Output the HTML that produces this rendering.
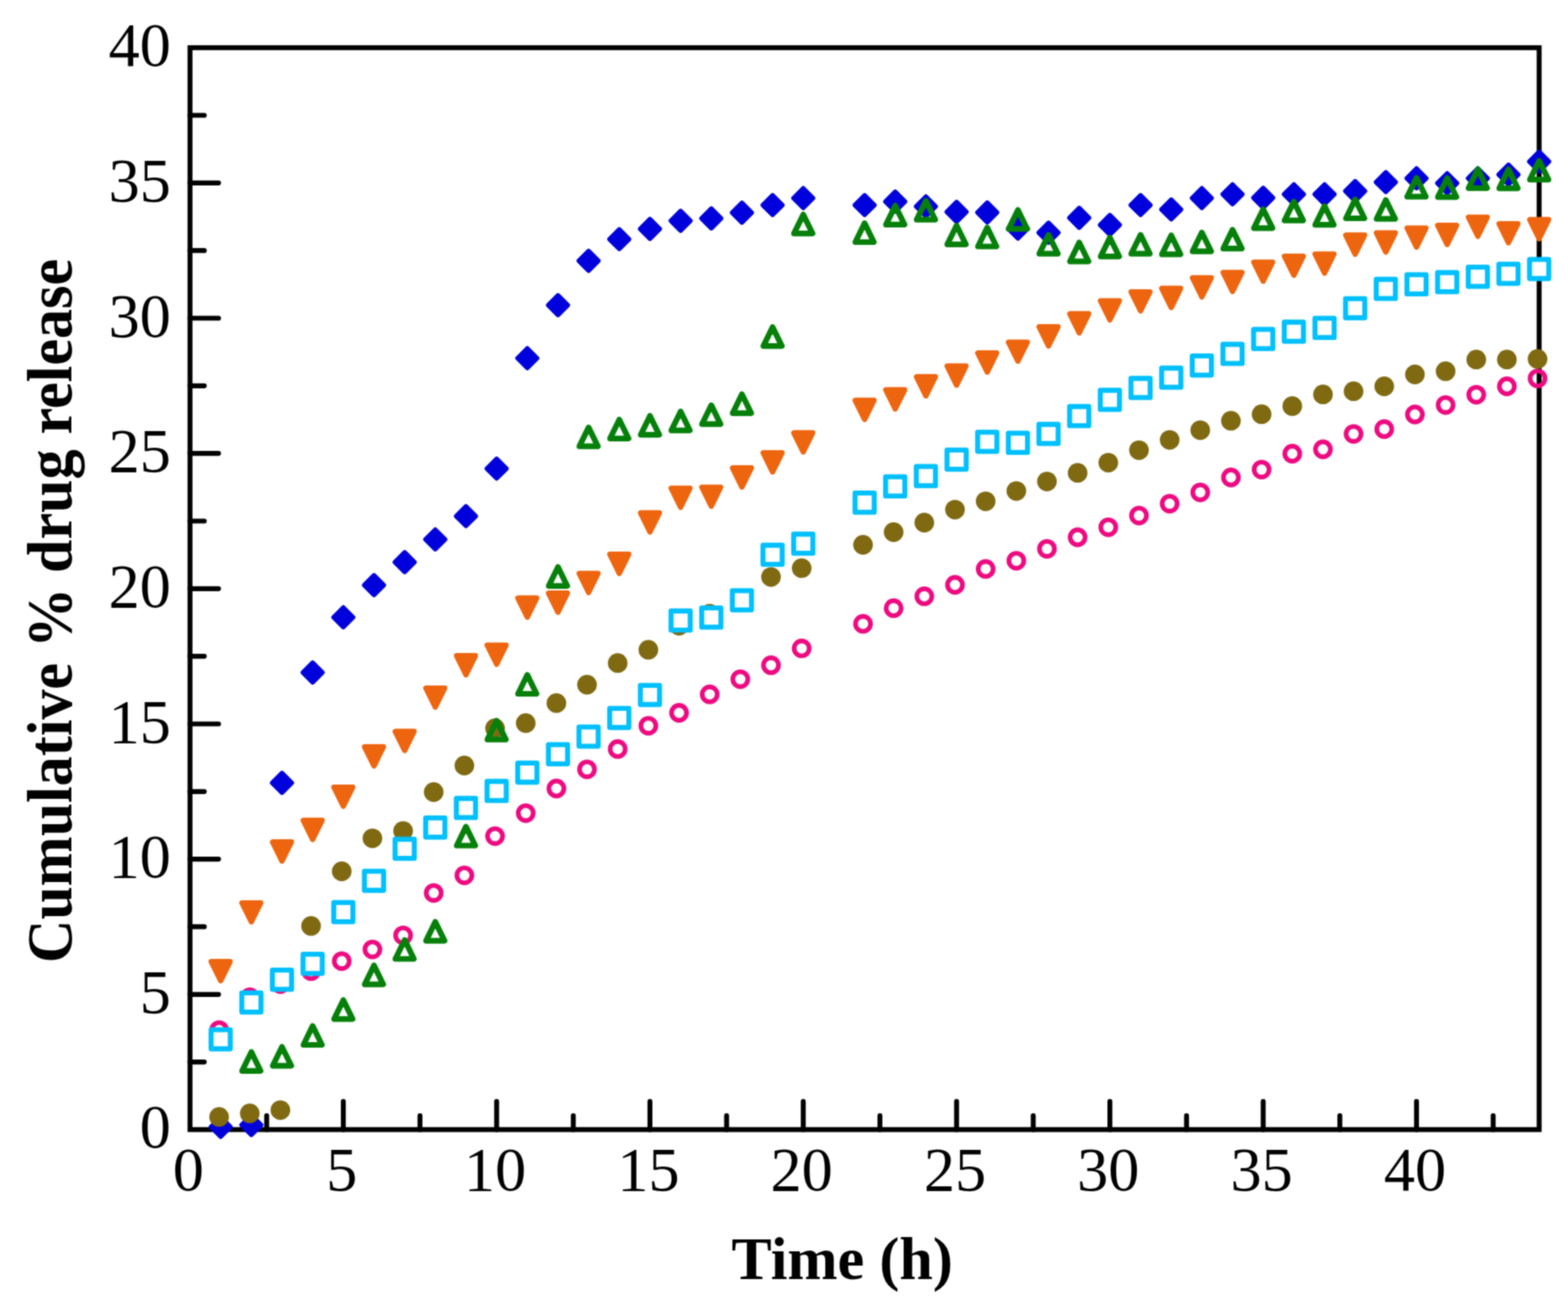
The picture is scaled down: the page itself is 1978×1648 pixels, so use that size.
<!DOCTYPE html>
<html><head><meta charset="utf-8"><title>Cumulative % drug release</title>
<style>
html,body{margin:0;padding:0;background:#fff;}
body{width:1978px;height:1648px;overflow:hidden;}
svg{display:block;}
.t{font-family:"Liberation Serif","DejaVu Serif",serif;fill:#000;}
</style></head><body>
<svg width="1978" height="1648" viewBox="0 0 1978 1648">
<defs><filter id="sf" x="0" y="0" width="1" height="1" color-interpolation-filters="sRGB"><feConvolveMatrix order="5" kernelMatrix="0.00023 0.00332 0.00809 0.00332 0.00023 0.00332 0.04785 0.11640 0.04785 0.00332 0.00809 0.11640 0.28313 0.11640 0.00809 0.00332 0.04785 0.11640 0.04785 0.00332 0.00023 0.00332 0.00809 0.00332 0.00023" edgeMode="duplicate" preserveAlpha="true"/></filter></defs>
<rect width="1978" height="1648" fill="#fff"/>
<g filter="url(#sf)">
<rect width="1978" height="1648" fill="#fff"/>

<rect x="239.7" y="60.2" width="1701.9" height="1365.2" fill="none" stroke="#000" stroke-width="6.2"/>
<path d="M433.1 1425.4V1389.9M626.5 1425.4V1389.9M819.9 1425.4V1389.9M1013.3 1425.4V1389.9M1206.7 1425.4V1389.9M1400.1 1425.4V1389.9M1593.5 1425.4V1389.9M1786.9 1425.4V1389.9M336.4 1425.4V1407.9M529.8 1425.4V1407.9M723.2 1425.4V1407.9M916.6 1425.4V1407.9M1110 1425.4V1407.9M1303.4 1425.4V1407.9M1496.8 1425.4V1407.9M1690.2 1425.4V1407.9M1883.6 1425.4V1407.9M239.7 1254.8H275.7M239.7 1084.1H275.7M239.7 913.5H275.7M239.7 742.8H275.7M239.7 572.1H275.7M239.7 401.5H275.7M239.7 230.8H275.7M239.7 1340.1H257.7M239.7 1169.4H257.7M239.7 998.8H257.7M239.7 828.1H257.7M239.7 657.5H257.7M239.7 486.8H257.7M239.7 316.2H257.7M239.7 145.5H257.7" stroke="#000" stroke-width="6.2" stroke-linecap="round" fill="none"/>
<text class="t" x="237.7" y="1502" font-size="78.5" text-anchor="middle">0</text>
<text class="t" x="431.1" y="1502" font-size="78.5" text-anchor="middle">5</text>
<text class="t" x="624.5" y="1502" font-size="78.5" text-anchor="middle">10</text>
<text class="t" x="817.9" y="1502" font-size="78.5" text-anchor="middle">15</text>
<text class="t" x="1011.3" y="1502" font-size="78.5" text-anchor="middle">20</text>
<text class="t" x="1204.7" y="1502" font-size="78.5" text-anchor="middle">25</text>
<text class="t" x="1398.1" y="1502" font-size="78.5" text-anchor="middle">30</text>
<text class="t" x="1591.5" y="1502" font-size="78.5" text-anchor="middle">35</text>
<text class="t" x="1784.9" y="1502" font-size="78.5" text-anchor="middle">40</text>
<text class="t" x="215.5" y="1448.4" font-size="78.5" text-anchor="end">0</text>
<text class="t" x="215.5" y="1277.8" font-size="78.5" text-anchor="end">5</text>
<text class="t" x="215.5" y="1107.1" font-size="78.5" text-anchor="end">10</text>
<text class="t" x="215.5" y="936.5" font-size="78.5" text-anchor="end">15</text>
<text class="t" x="215.5" y="765.8" font-size="78.5" text-anchor="end">20</text>
<text class="t" x="215.5" y="595.1" font-size="78.5" text-anchor="end">25</text>
<text class="t" x="215.5" y="424.5" font-size="78.5" text-anchor="end">30</text>
<text class="t" x="215.5" y="253.8" font-size="78.5" text-anchor="end">35</text>
<text class="t" x="215.5" y="83.2" font-size="78.5" text-anchor="end">40</text>
<text class="t" x="1062.5" y="1614" font-size="76" font-weight="bold" text-anchor="middle">Time (h)</text>
<text class="t" transform="translate(90 771) rotate(-90) scale(0.947 1)" x="0" y="0" font-size="80" font-weight="bold" text-anchor="middle">Cumulative % drug release</text>
<g fill="none" stroke="#EE0A80" stroke-width="5.9"><circle cx="276.4" cy="1299.8" r="9.45"/><circle cx="315.1" cy="1258.5" r="9.45"/><circle cx="353.7" cy="1241.8" r="9.45"/><circle cx="392.4" cy="1225.4" r="9.45"/><circle cx="431.1" cy="1212.8" r="9.45"/><circle cx="469.8" cy="1198.1" r="9.45"/><circle cx="508.5" cy="1180.3" r="9.45"/><circle cx="547.1" cy="1126.8" r="9.45"/><circle cx="585.8" cy="1104.6" r="9.45"/><circle cx="624.5" cy="1055.1" r="9.45"/><circle cx="663.2" cy="1026.1" r="9.45"/><circle cx="701.9" cy="995" r="9.45"/><circle cx="740.5" cy="970.8" r="9.45"/><circle cx="779.2" cy="945.2" r="9.45"/><circle cx="817.9" cy="915.8" r="9.45"/><circle cx="856.6" cy="899.5" r="9.45"/><circle cx="895.3" cy="876.2" r="9.45"/><circle cx="933.9" cy="857.1" r="9.45"/><circle cx="972.6" cy="839.4" r="9.45"/><circle cx="1011.3" cy="818.2" r="9.45"/><circle cx="1088.7" cy="787.2" r="9.45"/><circle cx="1127.3" cy="767.4" r="9.45"/><circle cx="1166" cy="752.4" r="9.45"/><circle cx="1204.7" cy="738" r="9.45"/><circle cx="1243.4" cy="717.9" r="9.45"/><circle cx="1282.1" cy="707.6" r="9.45"/><circle cx="1320.7" cy="692.6" r="9.45"/><circle cx="1359.4" cy="678" r="9.45"/><circle cx="1398.1" cy="665.3" r="9.45"/><circle cx="1436.8" cy="650.6" r="9.45"/><circle cx="1475.5" cy="635.6" r="9.45"/><circle cx="1514.1" cy="621.3" r="9.45"/><circle cx="1552.8" cy="602.5" r="9.45"/><circle cx="1591.5" cy="592.6" r="9.45"/><circle cx="1630.2" cy="572.5" r="9.45"/><circle cx="1668.9" cy="567" r="9.45"/><circle cx="1707.5" cy="547.6" r="9.45"/><circle cx="1746.2" cy="541.4" r="9.45"/><circle cx="1784.9" cy="523" r="9.45"/><circle cx="1823.6" cy="511.1" r="9.45"/><circle cx="1862.3" cy="498.1" r="9.45"/><circle cx="1900.9" cy="487.5" r="9.45"/><circle cx="1939.6" cy="477.6" r="9.45"/></g>
<path fill="#0000DC" stroke="#0000DC" stroke-width="6.0" stroke-linejoin="round" d="M278.4 1409.8L290.6 1422L278.4 1434.2L266.2 1422ZM317.1 1407.4L329.3 1419.6L317.1 1431.8L304.9 1419.6ZM355.7 975.7L367.9 987.9L355.7 1000.1L343.5 987.9ZM394.4 836.4L406.6 848.6L394.4 860.8L382.2 848.6ZM433.1 766.8L445.3 779L433.1 791.2L420.9 779ZM471.8 726.2L484 738.4L471.8 750.6L459.6 738.4ZM510.5 697.2L522.7 709.4L510.5 721.6L498.3 709.4ZM549.1 668.5L561.3 680.7L549.1 692.9L536.9 680.7ZM587.8 639.1L600 651.3L587.8 663.5L575.6 651.3ZM626.5 579.1L638.7 591.3L626.5 603.5L614.3 591.3ZM665.2 439.8L677.4 452L665.2 464.2L653 452ZM703.9 372.9L716.1 385.1L703.9 397.3L691.7 385.1ZM742.5 316.9L754.7 329.1L742.5 341.3L730.3 329.1ZM781.2 289.6L793.4 301.8L781.2 314L769 301.8ZM819.9 276.7L832.1 288.9L819.9 301.1L807.7 288.9ZM858.6 266.4L870.8 278.6L858.6 290.8L846.4 278.6ZM897.3 263.4L909.5 275.6L897.3 287.8L885.1 275.6ZM935.9 256.2L948.1 268.4L935.9 280.6L923.7 268.4ZM974.6 246.6L986.8 258.8L974.6 271L962.4 258.8ZM1013.3 237.8L1025.5 250L1013.3 262.2L1001.1 250ZM1090.7 246.6L1102.9 258.8L1090.7 271L1078.5 258.8ZM1129.3 242.2L1141.5 254.4L1129.3 266.6L1117.1 254.4ZM1168 248.3L1180.2 260.5L1168 272.7L1155.8 260.5ZM1206.7 255.2L1218.9 267.4L1206.7 279.6L1194.5 267.4ZM1245.4 255.9L1257.6 268.1L1245.4 280.3L1233.2 268.1ZM1284.1 276.3L1296.3 288.5L1284.1 300.7L1271.9 288.5ZM1322.7 281.4L1334.9 293.6L1322.7 305.8L1310.5 293.6ZM1361.4 262.7L1373.6 274.9L1361.4 287.1L1349.2 274.9ZM1400.1 271.6L1412.3 283.8L1400.1 296L1387.9 283.8ZM1438.8 246.6L1451 258.8L1438.8 271L1426.6 258.8ZM1477.5 252.1L1489.7 264.3L1477.5 276.5L1465.3 264.3ZM1516.1 237.8L1528.3 250L1516.1 262.2L1503.9 250ZM1554.8 233L1567 245.2L1554.8 257.4L1542.6 245.2ZM1593.5 237.4L1605.7 249.6L1593.5 261.8L1581.3 249.6ZM1632.2 233L1644.4 245.2L1632.2 257.4L1620 245.2ZM1670.9 233L1683.1 245.2L1670.9 257.4L1658.7 245.2ZM1709.5 228.9L1721.7 241.1L1709.5 253.3L1697.3 241.1ZM1748.2 217.6L1760.4 229.8L1748.2 242L1736 229.8ZM1786.9 212.8L1799.1 225L1786.9 237.2L1774.7 225ZM1825.6 219L1837.8 231.2L1825.6 243.4L1813.4 231.2ZM1864.3 212.8L1876.5 225L1864.3 237.2L1852.1 225ZM1902.9 208.1L1915.1 220.3L1902.9 232.5L1890.7 220.3ZM1941.6 191.7L1953.8 203.9L1941.6 216.1L1929.4 203.9Z"/>
<g fill="#7F6A12"><circle cx="276.4" cy="1409.4" r="12.4"/><circle cx="315.1" cy="1404.9" r="12.4"/><circle cx="353.7" cy="1400.8" r="12.4"/><circle cx="392.4" cy="1168.4" r="12.4"/><circle cx="431.1" cy="1099.5" r="12.4"/><circle cx="469.8" cy="1057.8" r="12.4"/><circle cx="508.5" cy="1048.6" r="12.4"/><circle cx="547.1" cy="999.5" r="12.4"/><circle cx="585.8" cy="966" r="12.4"/><circle cx="624.5" cy="918.9" r="12.4"/><circle cx="663.2" cy="912.4" r="12.4"/><circle cx="701.9" cy="887.2" r="12.4"/><circle cx="740.5" cy="864" r="12.4"/><circle cx="779.2" cy="836.7" r="12.4"/><circle cx="817.9" cy="819.9" r="12.4"/><circle cx="856.6" cy="789.6" r="12.4"/><circle cx="895.3" cy="774.5" r="12.4"/><circle cx="933.9" cy="759.9" r="12.4"/><circle cx="972.6" cy="728.1" r="12.4"/><circle cx="1011.3" cy="716.9" r="12.4"/><circle cx="1088.7" cy="687.5" r="12.4"/><circle cx="1127.3" cy="671.5" r="12.4"/><circle cx="1166" cy="659.5" r="12.4"/><circle cx="1204.7" cy="643.1" r="12.4"/><circle cx="1243.4" cy="632.6" r="12.4"/><circle cx="1282.1" cy="619.6" r="12.4"/><circle cx="1320.7" cy="607.6" r="12.4"/><circle cx="1359.4" cy="596.7" r="12.4"/><circle cx="1398.1" cy="583.8" r="12.4"/><circle cx="1436.8" cy="568.1" r="12.4"/><circle cx="1475.5" cy="555.1" r="12.4"/><circle cx="1514.1" cy="542.8" r="12.4"/><circle cx="1552.8" cy="530.9" r="12.4"/><circle cx="1591.5" cy="522.7" r="12.4"/><circle cx="1630.2" cy="512.4" r="12.4"/><circle cx="1668.9" cy="497.7" r="12.4"/><circle cx="1707.5" cy="493.7" r="12.4"/><circle cx="1746.2" cy="487.5" r="12.4"/><circle cx="1784.9" cy="472.5" r="12.4"/><circle cx="1823.6" cy="468.4" r="12.4"/><circle cx="1862.3" cy="453.7" r="12.4"/><circle cx="1900.9" cy="453.7" r="12.4"/><circle cx="1939.6" cy="453" r="12.4"/></g>
<path fill="#fff" stroke="#00C0FF" stroke-width="6.3" stroke-linejoin="round" d="M266.3 1299.3h24.2v24.2h-24.2ZM305 1252.9h24.2v24.2h-24.2ZM343.6 1224.2h24.2v24.2h-24.2ZM382.3 1204.1h24.2v24.2h-24.2ZM421 1138.9h24.2v24.2h-24.2ZM459.7 1099.3h24.2v24.2h-24.2ZM498.4 1059h24.2v24.2h-24.2ZM537 1032.1h24.2v24.2h-24.2ZM575.7 1007.5h24.2v24.2h-24.2ZM614.4 986h24.2v24.2h-24.2ZM653.1 962.8h24.2v24.2h-24.2ZM691.8 939.6h24.2v24.2h-24.2ZM730.4 917.4h24.2v24.2h-24.2ZM769.1 893.8h24.2v24.2h-24.2ZM807.8 864.8h24.2v24.2h-24.2ZM846.5 771h24.2v24.2h-24.2ZM885.2 767.2h24.2v24.2h-24.2ZM923.8 745.4h24.2v24.2h-24.2ZM962.5 688h24.2v24.2h-24.2ZM1001.2 674h24.2v24.2h-24.2ZM1078.6 622.2h24.2v24.2h-24.2ZM1117.2 601.7h24.2v24.2h-24.2ZM1155.9 588.7h24.2v24.2h-24.2ZM1194.6 567.9h24.2v24.2h-24.2ZM1233.3 545.4h24.2v24.2h-24.2ZM1272 546.7h24.2v24.2h-24.2ZM1310.6 535.5h24.2v24.2h-24.2ZM1349.3 513h24.2v24.2h-24.2ZM1388 492.5h24.2v24.2h-24.2ZM1426.7 477.5h24.2v24.2h-24.2ZM1465.4 464.5h24.2v24.2h-24.2ZM1504 449.1h24.2v24.2h-24.2ZM1542.7 434.5h24.2v24.2h-24.2ZM1581.4 415.7h24.2v24.2h-24.2ZM1620.1 406.5h24.2v24.2h-24.2ZM1658.8 401.7h24.2v24.2h-24.2ZM1697.4 376.8h24.2v24.2h-24.2ZM1736.1 352.5h24.2v24.2h-24.2ZM1774.8 346.7h24.2v24.2h-24.2ZM1813.5 344h24.2v24.2h-24.2ZM1852.2 337.2h24.2v24.2h-24.2ZM1890.8 333.4h24.2v24.2h-24.2ZM1929.5 327.3h24.2v24.2h-24.2Z"/>
<path fill="#EE650F" stroke="#EE650F" stroke-width="6.8" stroke-linejoin="round" d="M266.5 1213.4L290.2 1213.4L278.4 1237.4ZM305.2 1139.3L328.9 1139.3L317.1 1163.3ZM343.9 1062.5L367.6 1062.5L355.7 1086.5ZM382.6 1035.2L406.3 1035.2L394.4 1059.2ZM421.2 993.3L445 993.3L433.1 1017.3ZM459.9 942.4L483.6 942.4L471.8 966.4ZM498.6 923L522.3 923L510.5 947ZM537.3 868.3L561 868.3L549.1 892.3ZM576 827.4L599.7 827.4L587.8 851.4ZM614.6 814.1L638.4 814.1L626.5 838.1ZM653.3 754.7L677 754.7L665.2 778.7ZM692 748.5L715.7 748.5L703.9 772.5ZM730.7 723.6L754.4 723.6L742.5 747.6ZM769.4 699.4L793.1 699.4L781.2 723.4ZM808.1 647.2L831.8 647.2L819.9 671.2ZM846.7 616.1L870.4 616.1L858.6 640.1ZM885.4 614.8L909.1 614.8L897.3 638.8ZM924.1 590.5L947.8 590.5L935.9 614.5ZM962.8 571.4L986.5 571.4L974.6 595.4ZM1001.4 546.2L1025.1 546.2L1013.3 570.2ZM1078.8 505.2L1102.5 505.2L1090.7 529.2ZM1117.5 491.9L1141.2 491.9L1129.3 515.9ZM1156.2 475.5L1179.9 475.5L1168 499.5ZM1194.9 461.9L1218.5 461.9L1206.7 485.9ZM1233.5 445.5L1257.2 445.5L1245.4 469.5ZM1272.2 431.8L1295.9 431.8L1284.1 455.8ZM1310.9 412.4L1334.6 412.4L1322.7 436.4ZM1349.6 396L1373.3 396L1361.4 420ZM1388.3 379.6L1412 379.6L1400.1 403.6ZM1426.9 368.3L1450.6 368.3L1438.8 392.3ZM1465.6 363.9L1489.3 363.9L1477.5 387.9ZM1504.3 350.6L1528 350.6L1516.1 374.6ZM1543 343.8L1566.7 343.8L1554.8 367.8ZM1581.7 330.8L1605.3 330.8L1593.5 354.8ZM1620.3 323.3L1644 323.3L1632.2 347.3ZM1659 320.6L1682.7 320.6L1670.9 344.6ZM1697.7 296.7L1721.4 296.7L1709.5 320.7ZM1736.4 293.9L1760.1 293.9L1748.2 317.9ZM1775.1 287.8L1798.8 287.8L1786.9 311.8ZM1813.7 284.4L1837.4 284.4L1825.6 308.4ZM1852.4 274.1L1876.1 274.1L1864.3 298.1ZM1891.1 282.3L1914.8 282.3L1902.9 306.3ZM1929.8 277.2L1953.5 277.2L1941.6 301.2Z"/>
<path fill="none" stroke="#06800A" stroke-width="7.2" stroke-linejoin="round" d="M317.1 1327.5L328.7 1351.3L305.4 1351.3ZM355.7 1321L367.4 1344.8L344.1 1344.8ZM394.4 1294.7L406.1 1318.5L382.8 1318.5ZM433.1 1262L444.8 1285.8L421.5 1285.8ZM471.8 1218.3L483.4 1242.1L460.1 1242.1ZM510.5 1186.2L522.1 1210L498.8 1210ZM549.1 1163.3L560.8 1187.1L537.5 1187.1ZM587.8 1043.2L599.5 1067L576.2 1067ZM626.5 909.4L638.1 933.2L614.9 933.2ZM665.2 851.7L676.8 875.5L653.5 875.5ZM703.9 715.5L715.5 739.3L692.2 739.3ZM742.5 539.4L754.2 563.2L730.9 563.2ZM781.2 529.5L792.9 553.3L769.6 553.3ZM819.9 524.8L831.6 548.6L808.3 548.6ZM858.6 519.3L870.2 543.1L846.9 543.1ZM897.3 511.4L908.9 535.2L885.6 535.2ZM935.9 497.5L947.6 521.3L924.3 521.3ZM974.6 412.8L986.3 436.6L963 436.6ZM1013.3 270.8L1025 294.6L1001.6 294.6ZM1090.7 281.7L1102.3 305.5L1079 305.5ZM1129.3 259.6L1141 283.4L1117.7 283.4ZM1168 253.4L1179.7 277.2L1156.4 277.2ZM1206.7 284.5L1218.4 308.3L1195 308.3ZM1245.4 287.2L1257 311L1233.7 311ZM1284.1 265L1295.7 288.8L1272.4 288.8ZM1322.7 296.4L1334.4 320.2L1311.1 320.2ZM1361.4 306L1373.1 329.8L1349.8 329.8ZM1400.1 299.8L1411.8 323.6L1388.5 323.6ZM1438.8 296.4L1450.4 320.2L1427.1 320.2ZM1477.5 297.1L1489.1 320.9L1465.8 320.9ZM1516.1 293.4L1527.8 317.2L1504.5 317.2ZM1554.8 289.9L1566.5 313.7L1543.2 313.7ZM1593.5 264L1605.2 287.8L1581.8 287.8ZM1632.2 254.4L1643.8 278.2L1620.5 278.2ZM1670.9 259.9L1682.5 283.7L1659.2 283.7ZM1709.5 251.7L1721.2 275.5L1697.9 275.5ZM1748.2 252.4L1759.9 276.2L1736.6 276.2ZM1786.9 224.4L1798.6 248.2L1775.2 248.2ZM1825.6 224.8L1837.2 248.6L1813.9 248.6ZM1864.3 213.5L1875.9 237.3L1852.6 237.3ZM1902.9 213.8L1914.6 237.6L1891.3 237.6ZM1941.6 202.9L1953.3 226.7L1930 226.7Z"/>
</g></svg></body></html>
